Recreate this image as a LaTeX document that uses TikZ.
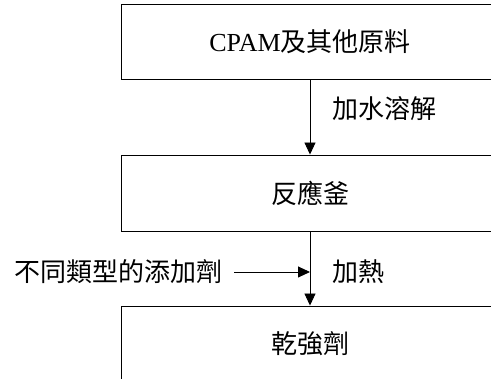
\documentclass[tikz,border=0pt]{standalone}
\usepackage{fontspec}
\setmainfont{Liberation Serif}
\newfontfamily\cjk{Noto Sans CJK TC}
\usetikzlibrary{arrows.meta}
\begin{document}
\begin{tikzpicture}[x=1pt,y=-1pt,
  box/.style={draw,line width=0.9pt,minimum width=378pt,inner sep=0pt,font=\fontsize{26}{30}\selectfont},
  lbl/.style={font=\cjk\fontsize{26}{30}\selectfont,inner sep=0pt},
  arr/.style={line width=0.9pt,-{Triangle[length=12pt,width=11pt]}}]
\useasboundingbox (0,0) rectangle (491,379);
\clip (0,0) rectangle (491,379);
\node[box,minimum height=75pt] (b1) at (310,41.5) {CPAM{\cjk 及其他原料}};
\node[box,minimum height=76pt] (b2) at (310,193) {\cjk 反應釜};
\node[box,minimum height=76pt] (b3) at (310,344) {\cjk 乾強劑};
\node[lbl,anchor=west] (w) at (332,109) {加水溶解};
\node[lbl,anchor=west] (h) at (332,272) {加熱};
\node[lbl,anchor=east] (add) at (223,272) {不同類型的添加劑};
\coordinate (j) at (310,272);
\draw[arr] (b1.south) -- (b2.north);
\draw[arr] (b2.south) -- (b3.north);
\draw[arr,shorten <=11pt] (add.east) -- (j);
\end{tikzpicture}
\end{document}
